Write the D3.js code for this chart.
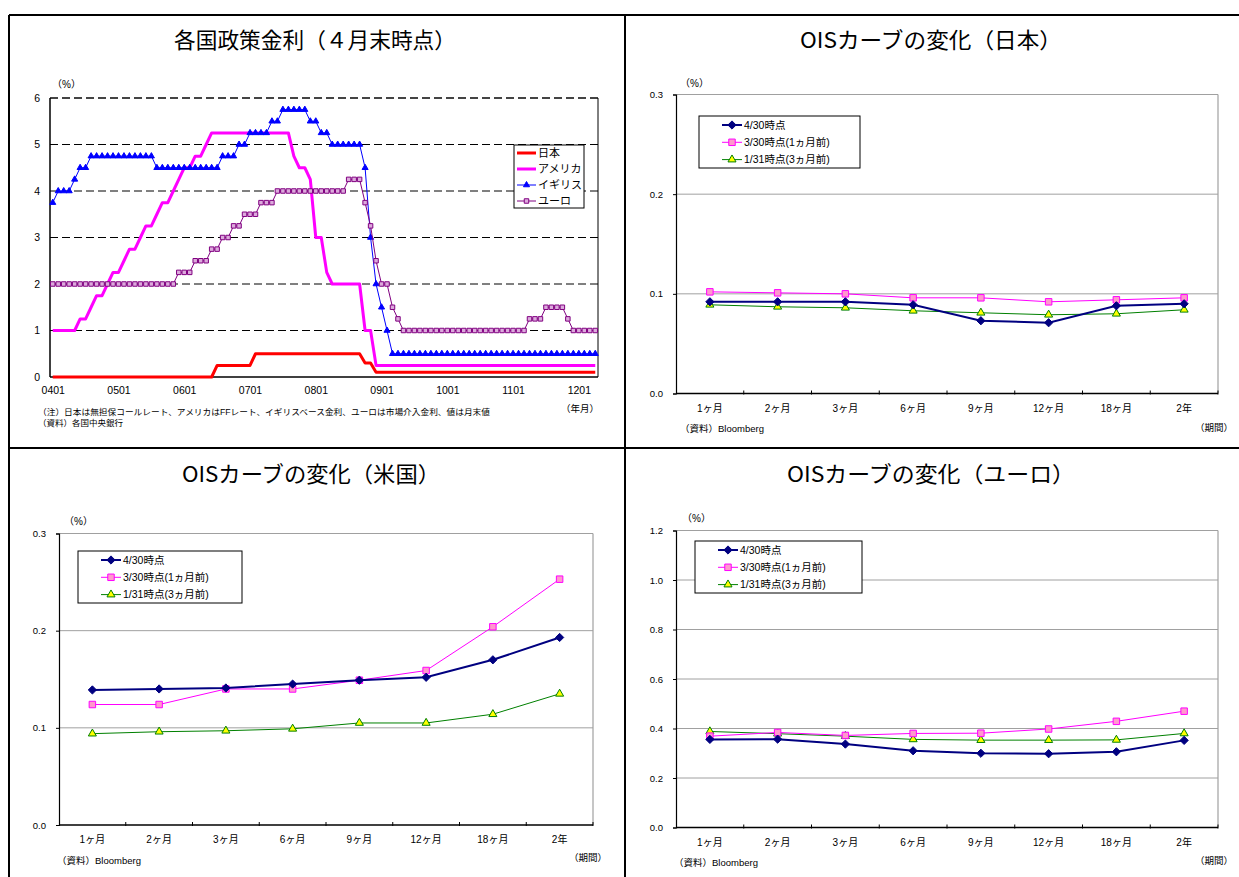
<!DOCTYPE html>
<html>
<head>
<meta charset="utf-8">
<script src="https://cdn.jsdelivr.net/npm/d3@7"></script>
<style>
  body { margin: 0; background: #fff; }
  svg { display: block; }
  text { font-family: "Liberation Sans", "Noto Sans CJK JP", sans-serif; fill: #000; }
  .ttl { font-family: "Noto Sans CJK JP", sans-serif; }
</style>
</head>
<body>
<svg id="chart" width="1239" height="877"></svg>
<script>
// ---------- Policy rates, month-end values, Jan 2004 – Apr 2012 (%) ----------
const policyTickLabels = ["0401", "0501", "0601", "0701", "0801", "0901", "1001", "1101", "1201"];

const japanRate = [
  0, 0, 0, 0, 0, 0, 0, 0, 0, 0, 0, 0,
  0, 0, 0, 0, 0, 0, 0, 0, 0, 0, 0, 0,
  0, 0, 0, 0, 0, 0, 0.25, 0.25, 0.25, 0.25, 0.25, 0.25,
  0.25, 0.5, 0.5, 0.5, 0.5, 0.5, 0.5, 0.5, 0.5, 0.5, 0.5, 0.5,
  0.5, 0.5, 0.5, 0.5, 0.5, 0.5, 0.5, 0.5, 0.5, 0.3, 0.3, 0.1,
  0.1, 0.1, 0.1, 0.1, 0.1, 0.1, 0.1, 0.1, 0.1, 0.1, 0.1, 0.1,
  0.1, 0.1, 0.1, 0.1, 0.1, 0.1, 0.1, 0.1, 0.1, 0.1, 0.1, 0.1,
  0.1, 0.1, 0.1, 0.1, 0.1, 0.1, 0.1, 0.1, 0.1, 0.1, 0.1, 0.1,
  0.1, 0.1, 0.1, 0.1
];

const usRate = [
  1, 1, 1, 1, 1, 1.25, 1.25, 1.5, 1.75, 1.75, 2, 2.25,
  2.25, 2.5, 2.75, 2.75, 3, 3.25, 3.25, 3.5, 3.75, 3.75, 4, 4.25,
  4.5, 4.5, 4.75, 4.75, 5, 5.25, 5.25, 5.25, 5.25, 5.25, 5.25, 5.25,
  5.25, 5.25, 5.25, 5.25, 5.25, 5.25, 5.25, 5.25, 4.75, 4.5, 4.5, 4.25,
  3, 3, 2.25, 2, 2, 2, 2, 2, 2, 1, 1, 0.25,
  0.25, 0.25, 0.25, 0.25, 0.25, 0.25, 0.25, 0.25, 0.25, 0.25, 0.25, 0.25,
  0.25, 0.25, 0.25, 0.25, 0.25, 0.25, 0.25, 0.25, 0.25, 0.25, 0.25, 0.25,
  0.25, 0.25, 0.25, 0.25, 0.25, 0.25, 0.25, 0.25, 0.25, 0.25, 0.25, 0.25,
  0.25, 0.25, 0.25, 0.25
];

const ukRate = [
  3.75, 4, 4, 4, 4.25, 4.5, 4.5, 4.75, 4.75, 4.75, 4.75, 4.75,
  4.75, 4.75, 4.75, 4.75, 4.75, 4.75, 4.75, 4.5, 4.5, 4.5, 4.5, 4.5,
  4.5, 4.5, 4.5, 4.5, 4.5, 4.5, 4.5, 4.75, 4.75, 4.75, 5, 5,
  5.25, 5.25, 5.25, 5.25, 5.5, 5.5, 5.75, 5.75, 5.75, 5.75, 5.75, 5.5,
  5.5, 5.25, 5.25, 5, 5, 5, 5, 5, 5, 4.5, 3, 2,
  1.5, 1, 0.5, 0.5, 0.5, 0.5, 0.5, 0.5, 0.5, 0.5, 0.5, 0.5,
  0.5, 0.5, 0.5, 0.5, 0.5, 0.5, 0.5, 0.5, 0.5, 0.5, 0.5, 0.5,
  0.5, 0.5, 0.5, 0.5, 0.5, 0.5, 0.5, 0.5, 0.5, 0.5, 0.5, 0.5,
  0.5, 0.5, 0.5, 0.5
];

const euroRate = [
  2, 2, 2, 2, 2, 2, 2, 2, 2, 2, 2, 2,
  2, 2, 2, 2, 2, 2, 2, 2, 2, 2, 2, 2.25,
  2.25, 2.25, 2.5, 2.5, 2.5, 2.75, 2.75, 3, 3, 3.25, 3.25, 3.5,
  3.5, 3.5, 3.75, 3.75, 3.75, 4, 4, 4, 4, 4, 4, 4,
  4, 4, 4, 4, 4, 4, 4.25, 4.25, 4.25, 3.75, 3.25, 2.5,
  2, 2, 1.5, 1.25, 1, 1, 1, 1, 1, 1, 1, 1,
  1, 1, 1, 1, 1, 1, 1, 1, 1, 1, 1, 1,
  1, 1, 1, 1.25, 1.25, 1.25, 1.5, 1.5, 1.5, 1.5, 1.25, 1,
  1, 1, 1, 1
];

// ---------- OIS curves (%) ----------
const oisTerms = ["1ヶ月", "2ヶ月", "3ヶ月", "6ヶ月", "9ヶ月", "12ヶ月", "18ヶ月", "2年"];
const oisSeriesNames = ["4/30時点", "3/30時点(1ヵ月前)", "1/31時点(3ヵ月前)"];

const jpApr30 = [0.092, 0.092, 0.092, 0.089, 0.073, 0.071, 0.088, 0.090];
const jpMar30 = [0.102, 0.101, 0.100, 0.096, 0.096, 0.092, 0.094, 0.096];
const jpJan31 = [0.089, 0.087, 0.086, 0.083, 0.081, 0.079, 0.080, 0.084];

const usApr30 = [0.139, 0.140, 0.141, 0.145, 0.149, 0.152, 0.170, 0.193];
const usMar30 = [0.124, 0.124, 0.140, 0.140, 0.149, 0.159, 0.204, 0.253];
const usJan31 = [0.094, 0.096, 0.097, 0.099, 0.105, 0.105, 0.114, 0.135];

const euApr30 = [0.356, 0.357, 0.337, 0.310, 0.300, 0.298, 0.306, 0.352];
const euMar30 = [0.369, 0.384, 0.372, 0.380, 0.381, 0.398, 0.429, 0.470];
const euJan31 = [0.388, 0.379, 0.369, 0.356, 0.353, 0.353, 0.354, 0.380];

// ---------- drawing ----------
const svg = d3.select("#chart");

// panel frame
const frame = svg.append("g").attr("stroke", "#000").attr("stroke-width", 2);
frame.append("line").attr("x1", 9).attr("x2", 1239).attr("y1", 15).attr("y2", 15);
frame.append("line").attr("x1", 9).attr("x2", 9).attr("y1", 15).attr("y2", 877);
frame.append("line").attr("x1", 625).attr("x2", 625).attr("y1", 15).attr("y2", 877);
frame.append("line").attr("x1", 9).attr("x2", 1239).attr("y1", 448).attr("y2", 448);

function title(text, cx, y, len) {
  const t = svg.append("text").attr("class", "ttl")
    .attr("x", cx).attr("y", y).attr("text-anchor", "middle")
    .attr("font-size", 21.5).text(text);
  if (len) t.attr("textLength", len).attr("lengthAdjust", "spacingAndGlyphs");
}

function label(text, x, y, size, anchor) {
  return svg.append("text").attr("x", x).attr("y", y)
    .attr("font-size", size).attr("text-anchor", anchor || "start").text(text);
}

// compact diamond (a square turned 45°)
const diamondSym = {
  draw(ctx, size) {
    const r = Math.sqrt(size / 2);
    ctx.moveTo(0, -r); ctx.lineTo(r, 0); ctx.lineTo(0, r); ctx.lineTo(-r, 0); ctx.closePath();
  }
};

// ================= Panel 1: policy rates =================
(function () {
  const L = 50, R = 598, T = 98, B = 377;
  const n = japanRate.length;
  const x = d3.scalePoint().domain(d3.range(n)).range([L, R]).padding(0.5);
  const y = d3.scaleLinear().domain([0, 6]).range([B, T]);
  const g = svg.append("g");

  title("各国政策金利（４月末時点）", 315, 48, 282);

  // dashed gridlines
  g.selectAll("line.grid").data([1, 2, 3, 4, 5]).join("line")
    .attr("x1", L).attr("x2", R).attr("y1", d => y(d)).attr("y2", d => y(d))
    .attr("stroke", "#000").attr("stroke-width", 1).attr("stroke-dasharray", "8,4");
  g.append("line").attr("x1", L).attr("x2", R).attr("y1", y(6)).attr("y2", y(6))
    .attr("stroke", "#444").attr("stroke-width", 2).attr("stroke-dasharray", "8,4");

  // axes
  const yAxis = d3.axisLeft(y).ticks(6).tickSize(0).tickPadding(10).tickFormat(d3.format("d"));
  const ya = g.append("g").attr("transform", `translate(${L},0)`).call(yAxis);
  ya.select(".domain").remove();
  ya.selectAll("text").attr("font-size", 10.5).attr("font-family", null);

  const tickIdx = policyTickLabels.map((d, i) => i * 12);
  const xAxis = d3.axisBottom(x).tickValues(tickIdx).tickSize(0).tickPadding(10)
    .tickFormat((d, i) => policyTickLabels[i]);
  const xa = g.append("g").attr("transform", `translate(0,${B})`).call(xAxis);
  xa.select(".domain").remove();
  xa.selectAll("text").attr("font-size", 10.5).attr("font-family", null);

  g.append("line").attr("x1", L).attr("x2", L).attr("y1", T).attr("y2", B).attr("stroke", "#000").attr("stroke-width", 1.5);
  g.append("line").attr("x1", L).attr("x2", R).attr("y1", B).attr("y2", B).attr("stroke", "#000").attr("stroke-width", 1.5);
  g.append("line").attr("x1", R).attr("x2", R).attr("y1", T).attr("y2", B).attr("stroke", "#000").attr("stroke-width", 1);

  const line = d3.line().x((d, i) => x(i)).y(d => y(d));

  const series = [
    { name: "日本", data: japanRate, color: "#ff0000", width: 3 },
    { name: "アメリカ", data: usRate, color: "#ff00ff", width: 3 },
    { name: "イギリス", data: ukRate, color: "#0000ff", width: 1, marker: d3.symbolTriangle, msize: 16, mfill: "#0000ff" },
    { name: "ユーロ", data: euroRate, color: "#800080", width: 1, marker: d3.symbolSquare, msize: 20, mfill: "#dcaadc" }
  ];

  series.forEach(s => {
    g.append("path").datum(s.data).attr("d", line)
      .attr("fill", "none").attr("stroke", s.color).attr("stroke-width", s.width)
      .attr("stroke-linejoin", "round");
    if (s.marker) {
      g.selectAll(null).data(s.data).join("path")
        .attr("d", d3.symbol().type(s.marker).size(s.msize))
        .attr("transform", (d, i) => `translate(${x(i)},${y(d)})`)
        .attr("fill", s.mfill).attr("stroke", s.color).attr("stroke-width", 1);
    }
  });

  // legend
  const lg = g.append("g");
  lg.append("rect").attr("x", 514).attr("y", 145).attr("width", 70).attr("height", 63)
    .attr("fill", "#fff").attr("stroke", "#000").attr("stroke-width", 1);
  series.forEach((s, i) => {
    const cy = 153 + i * 16;
    lg.append("line").attr("x1", 517).attr("x2", 536).attr("y1", cy).attr("y2", cy)
      .attr("stroke", s.color).attr("stroke-width", s.width);
    if (s.marker) {
      lg.append("path").attr("d", d3.symbol().type(s.marker).size(s.msize))
        .attr("transform", `translate(526.5,${cy})`)
        .attr("fill", s.mfill).attr("stroke", s.color).attr("stroke-width", 1);
    }
    lg.append("text").attr("x", 538).attr("y", cy + 4).attr("font-size", 11).text(s.name);
  });

  label("（%）", 52, 88, 10);
  label("（年月）", 561, 412, 9.5);
  label("（注）日本は無担保コールレート、アメリカはFFレート、イギリスベース金利、ユーロは市場介入金利、値は月末値", 38, 415, 8.5)
    .attr("textLength", 452).attr("lengthAdjust", "spacingAndGlyphs");
  label("（資料）各国中央銀行", 38, 426, 8.5);
})();

// ================= OIS panels =================
const oisStyles = [
  { color: "#000080", width: 2, marker: diamondSym, msize: 34, fill: "#000080" },
  { color: "#ff00ff", width: 1, marker: d3.symbolSquare, msize: 42, fill: "#ff99cc" },
  { color: "#008000", width: 1, marker: d3.symbolTriangle, msize: 28, fill: "#ffff00" }
];

function drawOIS(p, dataSets) {
  const g = svg.append("g");
  const x = d3.scaleBand().domain(oisTerms).range([p.L, p.R]).padding(0);
  const cx = t => x(t) + x.bandwidth() / 2;
  const y = d3.scaleLinear().domain([0, p.max]).range([p.B, p.T]);
  const ticks = d3.range(0, p.max + p.step / 2, p.step);

  title(p.title, p.titleX, p.titleY, p.titleLen);

  // grid
  g.selectAll("line.grid").data(ticks.slice(1)).join("line")
    .attr("x1", p.L).attr("x2", p.R).attr("y1", d => y(d)).attr("y2", d => y(d))
    .attr("stroke", "#a0a0a0").attr("stroke-width", 1);
  g.append("line").attr("x1", p.R).attr("x2", p.R).attr("y1", p.T).attr("y2", p.B)
    .attr("stroke", "#a0a0a0").attr("stroke-width", 1.2);

  // y axis
  const ya = g.append("g").attr("transform", `translate(${p.L},0)`)
    .call(d3.axisLeft(y).tickValues(ticks).tickSize(3).tickPadding(10).tickFormat(d3.format(".1f")));
  ya.select(".domain").attr("stroke", "#000").attr("stroke-width", 1.2);
  ya.selectAll("text").attr("font-size", 9.5).attr("font-family", null);

  // x axis: labels at category centres, ticks at category boundaries
  const xa = g.append("g").attr("transform", `translate(0,${p.B})`)
    .call(d3.axisBottom(x).tickSize(0).tickPadding(11));
  xa.select(".domain").remove();
  xa.selectAll("text").attr("font-size", 10).attr("font-family", null);
  g.append("line").attr("x1", p.L).attr("x2", p.R).attr("y1", p.B).attr("y2", p.B)
    .attr("stroke", "#000").attr("stroke-width", 1.5);
  g.selectAll("line.bt").data(oisTerms.slice(1).map(t => x(t)).concat([p.R])).join("line")
    .attr("x1", d => d).attr("x2", d => d).attr("y1", p.B - 3).attr("y2", p.B + 1)
    .attr("stroke", "#000").attr("stroke-width", 1);

  const line = d3.line().x((d, i) => cx(oisTerms[i])).y(d => y(d));

  dataSets.slice().reverse().forEach((vals, ri) => {
    const s = oisStyles[dataSets.length - 1 - ri];
    g.append("path").datum(vals).attr("d", line).attr("fill", "none")
      .attr("stroke", s.color).attr("stroke-width", s.width);
    g.selectAll(null).data(vals).join("path")
      .attr("d", d3.symbol().type(s.marker).size(s.msize))
      .attr("transform", (d, i) => `translate(${cx(oisTerms[i])},${y(d)})`)
      .attr("fill", s.fill).attr("stroke", s.color).attr("stroke-width", 1);
  });

  // legend
  const lb = p.legend;
  g.append("rect").attr("x", lb.x).attr("y", lb.y).attr("width", lb.w).attr("height", lb.h)
    .attr("fill", "#fff").attr("stroke", "#000").attr("stroke-width", 1);
  oisSeriesNames.forEach((name, i) => {
    const s = oisStyles[i];
    const cy = lb.y + 9 + i * 17.3;
    g.append("line").attr("x1", lb.x + 23).attr("x2", lb.x + 43).attr("y1", cy).attr("y2", cy)
      .attr("stroke", s.color).attr("stroke-width", s.width);
    g.append("path").attr("d", d3.symbol().type(s.marker).size(s.msize))
      .attr("transform", `translate(${lb.x + 33},${cy})`)
      .attr("fill", s.fill).attr("stroke", s.color).attr("stroke-width", 1);
    g.append("text").attr("x", lb.x + 45).attr("y", cy + 3.5).attr("font-size", 10.5).text(name);
  });

  label("（%）", p.pctX, p.pctY, 10);
  label("（資料）Bloomberg", p.srcX, p.srcY, 9.5);
  label("（期間）", p.perX, p.perY, 9.5);
}

drawOIS({
  L: 676, R: 1218, T: 94.5, B: 393.5, max: 0.3, step: 0.1,
  title: "OISカーブの変化（日本）", titleX: 931, titleY: 48, titleLen: 262,
  legend: { x: 699, y: 116, w: 161, h: 52 },
  pctX: 680, pctY: 87, srcX: 680, srcY: 432, perX: 1195, perY: 431
}, [jpApr30, jpMar30, jpJan31]);

drawOIS({
  L: 59, R: 593, T: 533.5, B: 825, max: 0.3, step: 0.1,
  title: "OISカーブの変化（米国）", titleX: 311, titleY: 482, titleLen: 258,
  legend: { x: 78, y: 551, w: 164, h: 52 },
  pctX: 64, pctY: 525, srcX: 57, srcY: 864, perX: 569, perY: 861
}, [usApr30, usMar30, usJan31]);

drawOIS({
  L: 676, R: 1218, T: 530.5, B: 827.5, max: 1.2, step: 0.2,
  title: "OISカーブの変化（ユーロ）", titleX: 931, titleY: 482, titleLen: 288,
  legend: { x: 695, y: 541, w: 167, h: 52 },
  pctX: 682, pctY: 522, srcX: 674, srcY: 866, perX: 1195, perY: 864
}, [euApr30, euMar30, euJan31]);
</script>
</body>
</html>
